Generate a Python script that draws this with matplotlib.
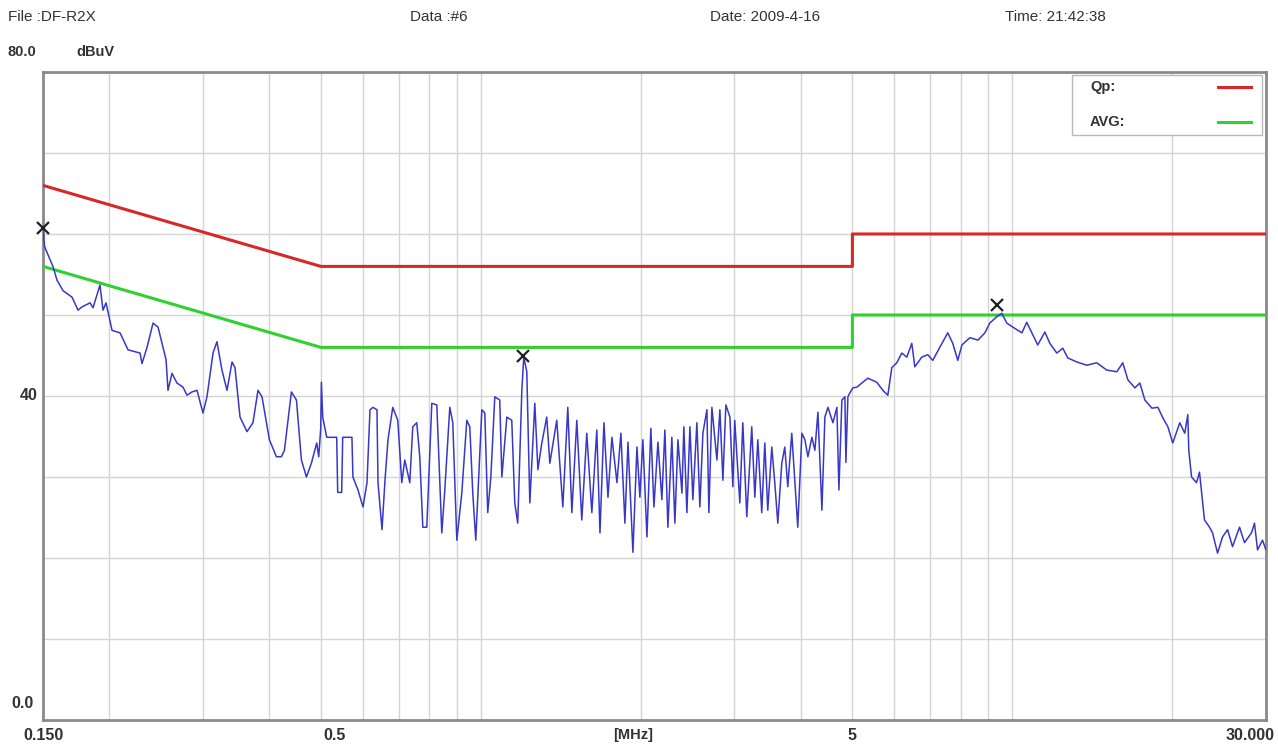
import matplotlib
matplotlib.use("Agg")
import matplotlib.pyplot as plt
import matplotlib.transforms as mtrans
from matplotlib.patches import Rectangle
from matplotlib.lines import Line2D

plt.rcParams['font.family'] = ['Liberation Sans', 'DejaVu Sans']

# ---------------- data ----------------
header_file = "File :DF-R2X"
header_data = "Data :#6"
header_date = "Date: 2009-4-16"
header_time = "Time: 21:42:38"

qp_freq = [0.15, 0.5, 5.0, 5.0, 30.0]
qp_level = [66.0, 56.0, 56.0, 60.0, 60.0]
avg_freq = [0.15, 0.5, 5.0, 5.0, 30.0]
avg_level = [56.0, 46.0, 46.0, 50.0, 50.0]

peak_freq = [0.150, 1.20, 9.35]
peak_level = [60.8, 44.9, 51.2]

trace_freq = [
    0.150, 0.151, 0.152, 0.1566, 0.1594, 0.1636, 0.1701, 0.1746, 0.1776, 0.1839,
    0.1863, 0.1920, 0.1945, 0.1971, 0.2023, 0.2094, 0.2168, 0.2284, 0.2303, 0.2354,
    0.2416, 0.2469, 0.2523, 0.2556, 0.2578, 0.2623, 0.2680, 0.2751, 0.2799, 0.2860,
    0.2923, 0.3000, 0.3052, 0.3133, 0.3187, 0.3257, 0.3329, 0.3402, 0.3446, 0.3522,
    0.3630, 0.3725, 0.3807, 0.3874, 0.4000, 0.4123, 0.4213, 0.4269, 0.4400, 0.4497,
    0.4595, 0.4696, 0.4798, 0.4910, 0.4953, 0.4996, 0.5010, 0.5039, 0.5127, 0.5354,
    0.5377, 0.5471, 0.5495, 0.5719, 0.5744, 0.5871, 0.6000, 0.6105, 0.6185, 0.6266,
    0.6375, 0.6403, 0.6515, 0.6600, 0.6686, 0.6826, 0.6976, 0.7098, 0.7191, 0.7348,
    0.7444, 0.7574, 0.7673, 0.7775, 0.7910, 0.8084, 0.8261, 0.8441, 0.8552, 0.8739,
    0.8853, 0.9009, 0.9205, 0.9407, 0.9530, 0.9654, 0.9780, 1.004, 1.017, 1.030,
    1.044, 1.062, 1.085, 1.095, 1.119, 1.143, 1.158, 1.173, 1.194, 1.204,
    1.220, 1.236, 1.263, 1.280, 1.302, 1.330, 1.348, 1.389, 1.426, 1.457,
    1.483, 1.515, 1.548, 1.582, 1.617, 1.652, 1.675, 1.704, 1.734, 1.764,
    1.803, 1.834, 1.866, 1.891, 1.932, 1.966, 1.991, 2.017, 2.053, 2.088,
    2.116, 2.153, 2.190, 2.219, 2.248, 2.287, 2.317, 2.348, 2.389, 2.409,
    2.441, 2.473, 2.505, 2.549, 2.582, 2.616, 2.662, 2.685, 2.720, 2.780,
    2.816, 2.853, 2.890, 2.941, 2.979, 3.003, 3.070, 3.110, 3.164, 3.233,
    3.276, 3.319, 3.376, 3.421, 3.465, 3.526, 3.572, 3.619, 3.682, 3.730,
    3.779, 3.845, 3.896, 3.946, 4.017, 4.070, 4.123, 4.195, 4.250, 4.306,
    4.381, 4.438, 4.497, 4.595, 4.675, 4.716, 4.777, 4.840, 4.861, 4.903,
    4.946, 5.010, 5.100, 5.163, 5.345, 5.557, 5.704, 5.829, 5.931, 6.060,
    6.192, 6.329, 6.467, 6.552, 6.753, 6.931, 7.082, 7.300, 7.558, 7.723,
    7.893, 8.035, 8.318, 8.613, 8.877, 9.067, 9.346, 9.551, 9.759, 10.02,
    10.42, 10.64, 10.88, 11.16, 11.51, 11.76, 12.12, 12.44, 12.71, 13.22,
    13.80, 14.41, 15.05, 15.72, 16.13, 16.49, 17.00, 17.37, 17.75, 18.30,
    18.78, 19.19, 19.61, 20.03, 20.65, 21.10, 21.38, 21.47, 21.73, 22.20,
    22.49, 22.98, 23.49, 23.80, 24.32, 24.85, 25.40, 25.95, 26.75, 27.33,
    28.17, 28.54, 28.92, 29.55, 30.00,
]
trace_level = [
    60.7, 58.5, 58.0, 56.0, 54.3, 53.0, 52.2, 50.6, 51.0, 51.5,
    50.9, 53.7, 50.6, 51.5, 48.1, 47.8, 45.7, 45.3, 44.0, 46.0,
    49.0, 48.5, 46.0, 44.5, 40.7, 42.8, 41.6, 41.1, 40.1, 40.5,
    40.7, 37.9, 39.9, 45.3, 46.7, 43.2, 40.7, 44.2, 43.5, 37.4,
    35.6, 36.7, 40.7, 39.9, 34.6, 32.5, 32.5, 33.3, 40.5, 39.5,
    32.1, 30.0, 31.7, 34.2, 32.5, 36.0, 41.7, 37.4, 34.9, 34.9,
    28.1, 28.1, 34.9, 34.9, 30.0, 28.4, 26.3, 29.3, 38.3, 38.6,
    38.3, 29.3, 23.5, 29.6, 34.6, 38.6, 37.0, 29.3, 32.1, 29.3,
    36.2, 36.7, 32.5, 23.8, 23.8, 39.1, 38.9, 23.1, 28.4, 38.6,
    36.7, 22.2, 28.0, 37.0, 36.2, 28.0, 22.2, 38.3, 37.9, 25.6,
    30.0, 39.9, 39.5, 30.0, 37.4, 37.0, 26.8, 24.3, 40.7, 44.8,
    43.0, 26.8, 39.1, 30.9, 34.2, 37.4, 31.7, 37.0, 26.3, 38.6,
    25.6, 37.0, 24.7, 35.4, 25.6, 35.8, 23.1, 36.7, 27.5, 34.9,
    29.3, 35.4, 24.3, 34.3, 20.7, 33.7, 27.5, 34.6, 22.6, 36.0,
    26.3, 34.3, 27.2, 35.8, 23.8, 34.9, 24.3, 34.6, 28.0, 36.2,
    25.6, 36.2, 27.2, 36.7, 26.3, 35.4, 38.3, 25.6, 38.6, 32.1,
    38.3, 29.6, 38.9, 37.4, 28.8, 37.0, 26.8, 36.7, 25.1, 36.2,
    27.5, 34.6, 25.6, 34.2, 25.9, 33.7, 29.3, 24.3, 31.7, 33.7,
    28.8, 35.4, 29.6, 23.8, 35.4, 34.6, 32.5, 34.9, 33.3, 38.0,
    25.9, 37.4, 38.6, 36.7, 38.6, 28.4, 39.5, 39.9, 31.8, 39.9,
    40.4, 41.0, 41.1, 41.4, 42.2, 41.7, 40.7, 40.1, 43.5, 44.1,
    45.3, 44.8, 46.5, 43.6, 44.8, 45.1, 44.4, 46.0, 47.8, 46.5,
    44.4, 46.3, 47.2, 46.9, 47.8, 49.0, 49.8, 50.2, 49.0, 48.5,
    47.8, 49.1, 47.8, 46.3, 47.9, 46.5, 45.3, 45.9, 44.7, 44.2,
    43.8, 44.1, 43.2, 43.0, 44.1, 42.0, 41.0, 41.6, 39.5, 38.5,
    38.6, 37.3, 36.2, 34.2, 36.7, 35.4, 37.7, 33.3, 30.0, 29.3,
    30.6, 24.7, 23.8, 23.1, 20.6, 22.6, 23.5, 21.4, 23.8, 21.9,
    23.1, 24.3, 21.0, 22.2, 21.0,
]

grid_x = [0.2, 0.3, 0.4, 0.5, 0.6, 0.7, 0.8, 0.9, 1, 2, 3, 4, 5, 6, 7, 8, 9, 10, 20]
grid_y = [10, 20, 30, 40, 50, 60, 70]

x_tick_vals = [0.15, 0.53, 5.0]
x_tick_text = ["0.150", "0.5", "5"]
x_last_text = "30.000"
x_unit_text = "[MHz]"
y_tick_text = ["0.0", "40"]

legend_labels = ["Qp:", "AVG:"]
qp_color = '#d62828'
avg_color = '#2fd12f'
trace_color = '#3838c8'
text_color = '#333333'

# ---------------- figure ----------------
W, H = 1278, 747
fig = plt.figure(figsize=(W / 100, H / 100), dpi=100)
fig.patch.set_facecolor('white')


def px2fig(x, y):
    return x / W, 1 - y / H


ax = fig.add_axes([43 / W, 1 - 720 / H, (1266 - 43) / W, (720 - 72) / H])
ax.set_xscale('log')
ax.set_xlim(0.15, 30)
ax.set_ylim(0, 80)
ax.set_xticks([])
ax.set_yticks([])
ax.minorticks_off()
for s in ax.spines.values():
    s.set_color('#8a8a8a')
    s.set_linewidth(2.0)

for gx in grid_x:
    ax.axvline(gx, color='#d4d4d4', lw=1.0, zorder=0)
for gy in grid_y:
    ax.axhline(gy, color='#d4d4d4', lw=1.0, zorder=0)

# limit lines
ax.plot(qp_freq, qp_level, color=qp_color, lw=2.2, zorder=3)
ax.plot(avg_freq, avg_level, color=avg_color, lw=2.2, zorder=3)

# measured trace
ax.plot(trace_freq, trace_level, color=trace_color, lw=1.1, zorder=4)

# peak markers
ax.plot(peak_freq, peak_level, linestyle='none', marker='x', color='#202020',
        markersize=8, markeredgewidth=1.6, zorder=6, clip_on=False)

# legend box (manual, matching the analyser layout)
ax.set_zorder(1)
ax.patch.set_alpha(0)
fig.add_artist(Rectangle(px2fig(1072, 135), 190 / W, 60 / H,
                         transform=fig.transFigure, facecolor='white',
                         edgecolor='#b8b8b8', lw=1, zorder=2))
lx1, _ = px2fig(1218, 0)
lx2, _ = px2fig(1251, 0)
for label, col, yy in [(legend_labels[0], qp_color, 87),
                       (legend_labels[1], avg_color, 122)]:
    fx, fy = px2fig(1090, yy)
    fig.text(fx, fy, label, fontsize=10.5, fontweight='bold', color=text_color,
             ha='left', va='center', zorder=8)
    fig.add_artist(Line2D([lx1, lx2], [fy, fy], color=col, lw=2.2,
                          transform=fig.transFigure, zorder=8))

# header texts
hdr_kw = dict(fontsize=11, color=text_color, va='center', ha='left')
fig.text(*px2fig(8, 17), header_file, **hdr_kw)
fig.text(*px2fig(410, 17), header_data, **hdr_kw)
fig.text(*px2fig(710, 17), header_date, **hdr_kw)
fig.text(*px2fig(1005, 17), header_time, **hdr_kw)
fig.text(*px2fig(8, 52), "80.0", ha='left', fontsize=10.5, fontweight='bold',
         color=text_color, va='center')
fig.text(*px2fig(76, 52), "dBuV", ha='left', fontsize=10.5, fontweight='bold',
         color=text_color, va='center')

# y tick labels
lab_kw = dict(fontsize=11.5, fontweight='bold', color=text_color, va='center')
fig.text(*px2fig(29, 395), y_tick_text[1], ha='center', **lab_kw)
fig.text(*px2fig(23, 703), y_tick_text[0], ha='center', **lab_kw)

# x tick labels
trans = mtrans.blended_transform_factory(ax.transData, fig.transFigure)
ylab = 1 - 735 / H
for xv, xt in zip(x_tick_vals, x_tick_text):
    fig.text(xv, ylab, xt, transform=trans, ha='center', **lab_kw)
fig.text(*px2fig(1275, 735), x_last_text, ha='right', **lab_kw)
fig.text(*px2fig(633, 735), x_unit_text, ha='center', fontsize=10.5,
         fontweight='bold', color=text_color, va='center')

fig.savefig("out.png", dpi=100, facecolor='white')
